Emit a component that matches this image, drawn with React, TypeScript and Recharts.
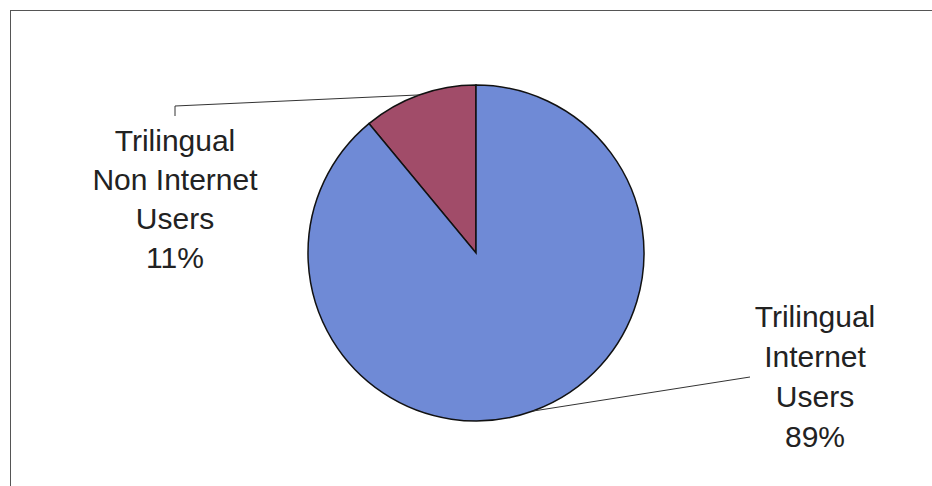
import React from "react";
import { PieChart, Pie, Cell } from "recharts";

const names = ["Trilingual Non Internet Users", "Trilingual Internet Users"];
const shares = [11, 89];
const colors = ["#a14c69", "#6f8ad6"];
const labelLines = [
  ["Trilingual", "Non Internet", "Users"],
  ["Trilingual", "Internet", "Users"],
];

const data = names.map((name, i) => ({ name, value: shares[i] }));

// where each label block sits and where its leader line ends
const labelSpots = [
  { x: 175, y: 151, lineTo: [[175, 106], [175, 116]], step: 39 },
  { x: 815, y: 327, lineTo: [[750, 377]], step: 40 },
];

const RADIAN = Math.PI / 180;

const renderLabel = (props: any) => {
  const { cx, cy, midAngle, outerRadius, index, percent } = props;
  const spot = labelSpots[index];
  const sx = cx + outerRadius * Math.cos(-midAngle * RADIAN);
  const sy = cy + outerRadius * Math.sin(-midAngle * RADIAN);
  const pts = [[sx, sy], ...spot.lineTo].map((p) => p.join(",")).join(" ");
  const lines = [...labelLines[index], `${Math.round(percent * 100)}%`];
  return (
    <g>
      <polyline points={pts} fill="none" stroke="#333" strokeWidth={1} />
      {lines.map((t, i) => (
        <text
          key={i}
          x={spot.x}
          y={spot.y + i * spot.step}
          textAnchor="middle"
          fontSize={30}
          fontFamily="'Liberation Sans', Arial, sans-serif"
          fill="#222"
        >
          {t}
        </text>
      ))}
    </g>
  );
};

export default function App() {
  return (
    <div style={{ position: "absolute", left: 0, top: 0, width: 932, height: 486, background: "#fff" }}>
      <div
        style={{
          position: "absolute",
          left: 10,
          top: 10,
          width: 930,
          height: 480,
          borderTop: "1.5px solid #555",
          borderLeft: "1.5px solid #555",
        }}
      />
      <PieChart
        width={932}
        height={486}
        margin={{ top: 0, right: 0, bottom: 0, left: 0 }}
        style={{ position: "absolute", left: 0, top: 0 }}
      >
        <Pie
          data={data}
          dataKey="value"
          nameKey="name"
          cx={476}
          cy={253}
          outerRadius={168}
          startAngle={90}
          endAngle={450}
          stroke="#111"
          strokeWidth={1.5}
          label={renderLabel}
          labelLine={false}
          isAnimationActive={false}
        >
          {data.map((d, i) => (
            <Cell key={d.name} fill={colors[i]} />
          ))}
        </Pie>
      </PieChart>
    </div>
  );
}
